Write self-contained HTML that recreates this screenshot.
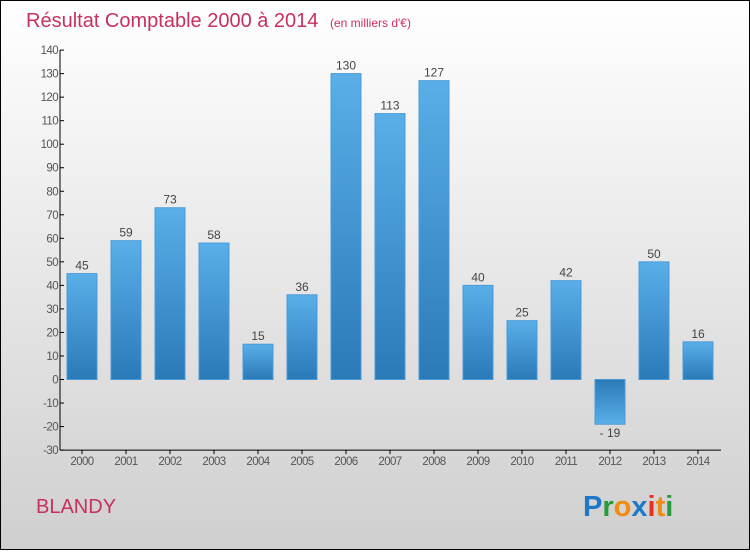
<!DOCTYPE html>
<html><head><meta charset="utf-8"><style>
html,body{margin:0;padding:0;}
body{width:750px;height:550px;overflow:hidden;font-family:"Liberation Sans",sans-serif;}
#wrap{position:relative;width:748px;height:548px;border:1px solid #000;background:linear-gradient(#ffffff,#f3f3f3 25%,#cfcfcf);}
</style></head><body>
<div id="wrap">
<svg id="chart" width="748" height="548">
<defs>
<linearGradient id="gp" x1="0" y1="0" x2="0" y2="1"><stop offset="0" stop-color="#5aafe8"/><stop offset="1" stop-color="#2a7ab8"/></linearGradient>
<linearGradient id="gn" x1="0" y1="0" x2="0" y2="1"><stop offset="0" stop-color="#2a7ab8"/><stop offset="1" stop-color="#5aafe8"/></linearGradient>
</defs>
<text x="25" y="26" font-size="20" fill="#c8305e">Résultat Comptable 2000 à 2014 <tspan font-size="12" dx="6">(en milliers d'€)</tspan></text>
<text x="35" y="512" font-size="20" fill="#c8305e">BLANDY</text>
<text x="582" y="515" font-size="29" font-weight="bold"><tspan fill="#1e78c8">P</tspan><tspan fill="#2a9a3a">r</tspan><tspan fill="#f08a10">o</tspan><tspan fill="#1e78c8">x</tspan><tspan fill="#e83020">i</tspan><tspan fill="#f08a10">t</tspan><tspan fill="#2a9a3a">i</tspan></text>
<g id="plot"></g>
</svg>
</div>
<script>
const categories=["2000","2001","2002","2003","2004","2005","2006","2007","2008","2009","2010","2011","2012","2013","2014"];
const values=[45,59,73,58,15,36,130,113,127,40,25,42,-19,50,16];
const yTicks=[-30,-20,-10,0,10,20,30,40,50,60,70,80,90,100,110,120,130,140];
const NS="http://www.w3.org/2000/svg";
const g=document.getElementById('plot');
function y(v){return 378.5-(v)*(400/170);}
function x(i){return 81+i*44;}
function el(t,a,p){const e=document.createElementNS(NS,t);for(const k in a)e.setAttribute(k,a[k]);(p||g).appendChild(e);return e;}
const ya=el('line',{x1:59,y1:y(140),x2:59,y2:y(-30),stroke:'#000'});


const xa=el('line',{x1:59,y1:y(-30),x2:720,y2:y(-30),stroke:'#000'});


yTicks.forEach(v=>{
 el('line',{x1:59,y1:y(v),x2:63,y2:y(v),stroke:'#000'});
 const t=el('text',{x:57,y:y(v)+4,'text-anchor':'end','font-size':11.5,fill:'#555','letter-spacing':'-0.6'});
 t.textContent=v;
 
 
});
categories.forEach((c,i)=>{
 const v=values[i];
 el('line',{x1:x(i),y1:y(-30),x2:x(i),y2:y(-30)+4,stroke:'#000'});
 const t=el('text',{x:x(i),y:y(-30)+15,'text-anchor':'middle','font-size':11.5,fill:'#555','letter-spacing':'-0.6'});
 t.textContent=c;
 
 
 const top=Math.min(y(v),y(0)),h=Math.abs(y(v)-y(0));
 const r=el('rect',{x:x(i)-15,y:top,width:30,height:h,fill:v>=0?'url(#gp)':'url(#gn)',stroke:'#4a9ad8','stroke-width':1});
 
 
 const l=el('text',{x:x(i),y:v>=0?y(v)-4:y(v)+13,'text-anchor':'middle','font-size':12,fill:'#444'});
 l.textContent=v<0?'- '+Math.abs(v):v;
 
 
});
</script>
</body></html>
